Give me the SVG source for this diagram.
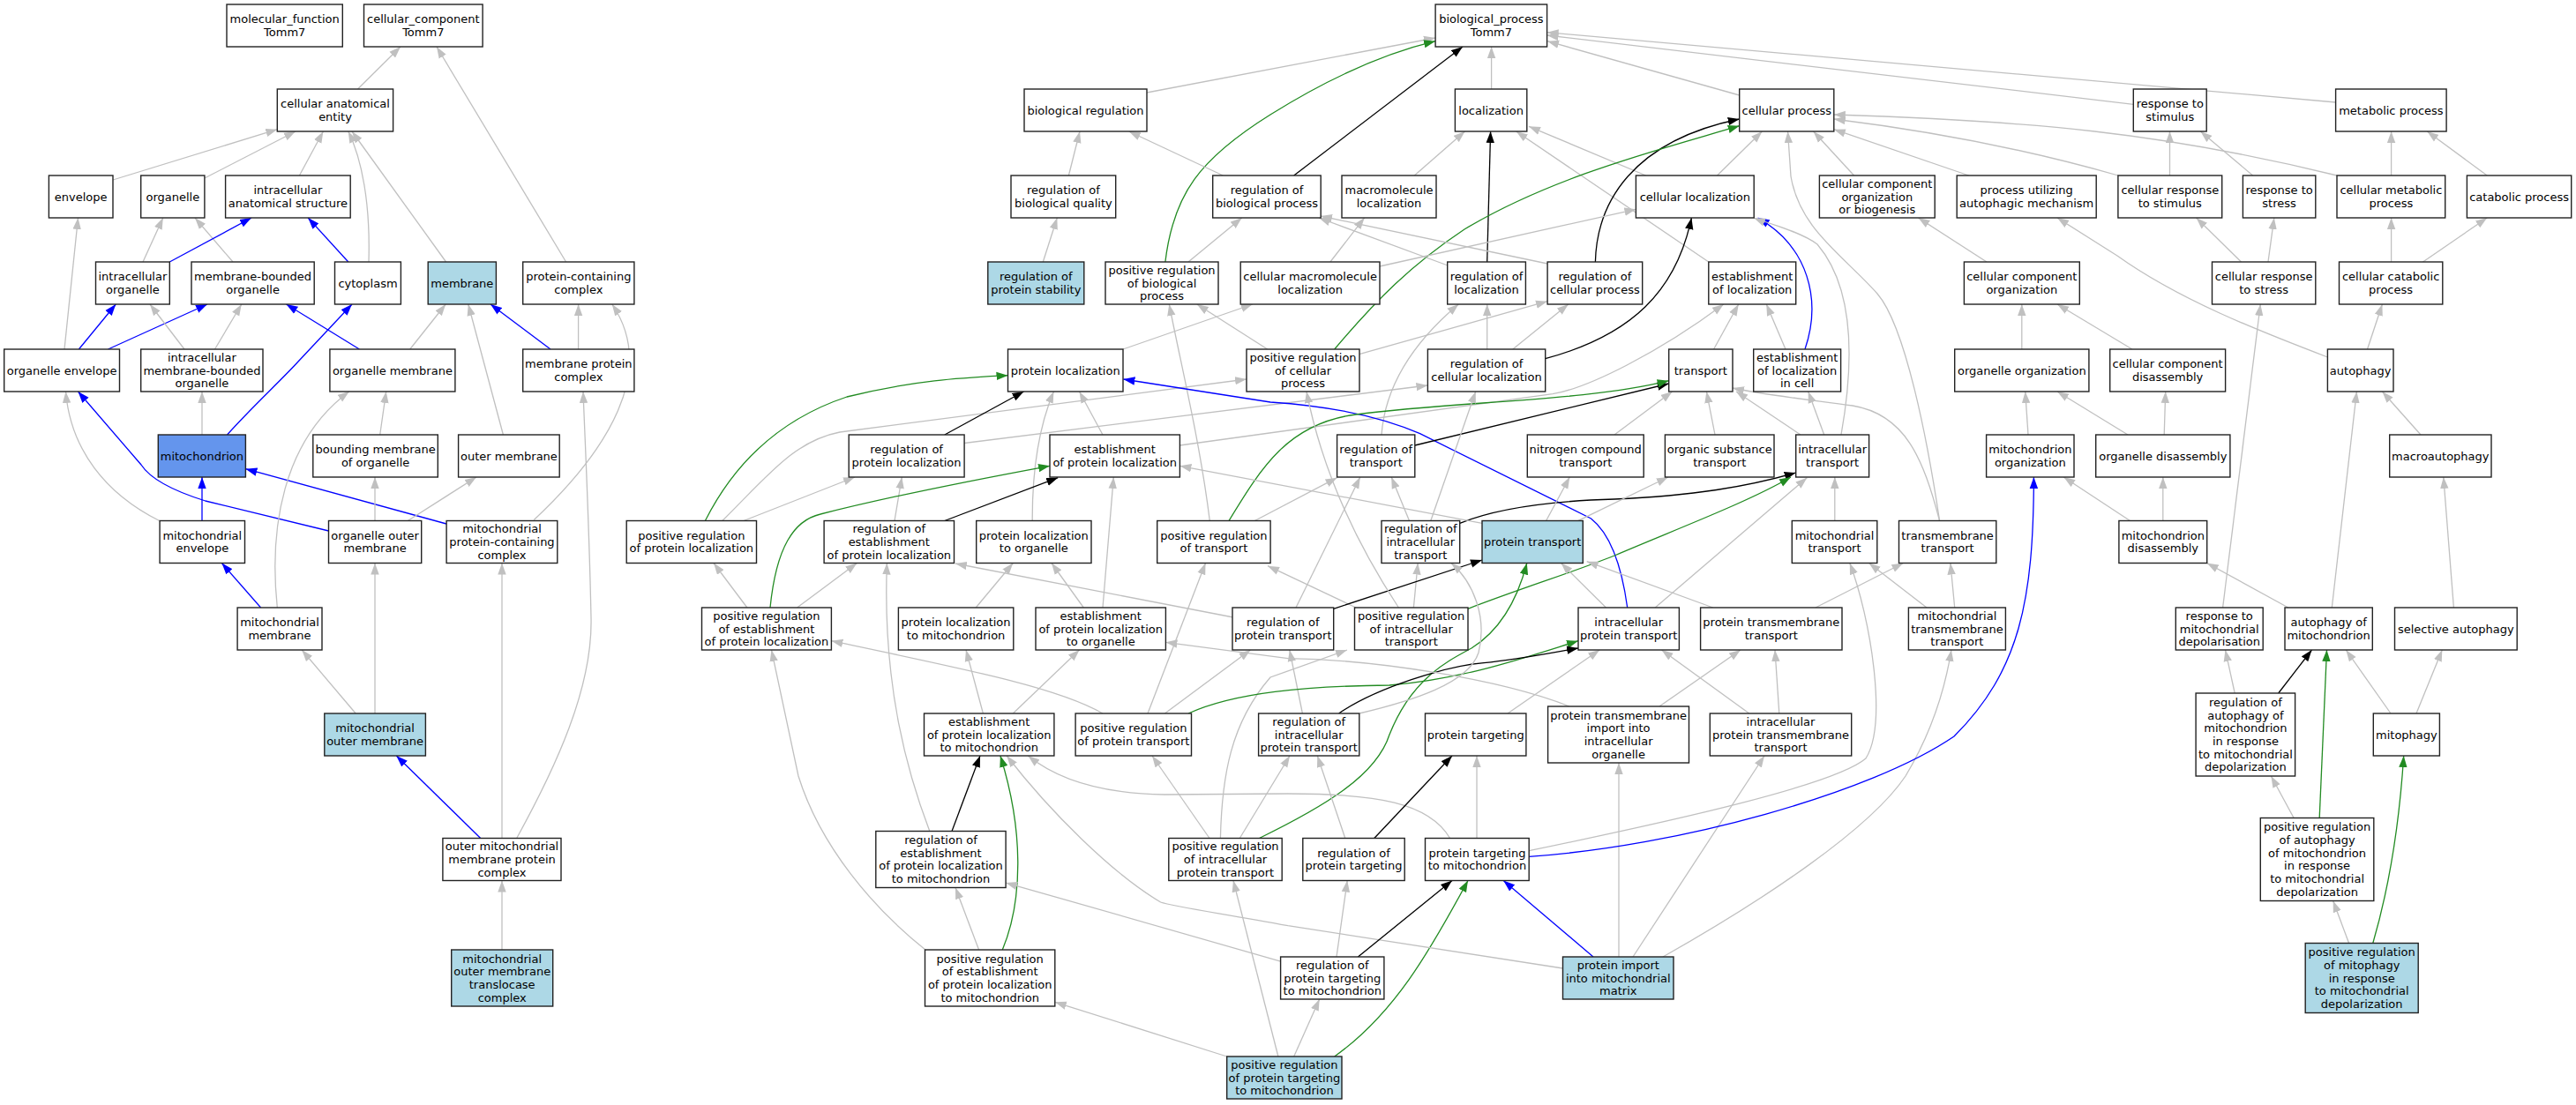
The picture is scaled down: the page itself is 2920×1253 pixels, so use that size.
<svg xmlns="http://www.w3.org/2000/svg" width="2920" height="1253" viewBox="0 0 2920 1253">
<style>
.n rect{fill:#fff;stroke:#222;stroke-width:1.4}
.lb rect{fill:#add8e6}
.cb rect{fill:#6495ed}
text{font-family:"DejaVu Sans","Liberation Sans",sans-serif;font-size:13px;text-anchor:middle;fill:#000}
#edges path{fill:none;stroke-width:1.3}
#edges .g{stroke:#c0c0c0;marker-end:url(#mg)}
#edges .b{stroke:#0000ff;marker-end:url(#mb)}
#edges .k{stroke:#000;marker-end:url(#mk)}
#edges .r{stroke:#228b22;marker-end:url(#mr)}
</style>
<defs>
<marker id="mg" markerUnits="userSpaceOnUse" markerWidth="13" markerHeight="10" refX="13" refY="5" orient="auto"><path d="M0,0.3L13,5L0,9.7z" fill="#c0c0c0"/></marker>
<marker id="mb" markerUnits="userSpaceOnUse" markerWidth="13" markerHeight="10" refX="13" refY="5" orient="auto"><path d="M0,0.3L13,5L0,9.7z" fill="#0000ff"/></marker>
<marker id="mk" markerUnits="userSpaceOnUse" markerWidth="13" markerHeight="10" refX="13" refY="5" orient="auto"><path d="M0,0.3L13,5L0,9.7z" fill="#000"/></marker>
<marker id="mr" markerUnits="userSpaceOnUse" markerWidth="13" markerHeight="10" refX="13" refY="5" orient="auto"><path d="M0,0.3L13,5L0,9.7z" fill="#228b22"/></marker>
</defs>
<rect x="0" y="0" width="2920" height="1253" fill="#fff"/>
<g id="edges">
<path class="g" d="M405.5,101L454,53"/>
<path class="g" d="M641.6,297L495,53"/>
<path class="g" d="M128,204L314.3,146.7"/>
<path class="g" d="M231.9,202L335,149"/>
<path class="g" d="M339.4,199L366.4,149"/>
<path class="g" d="M418,297C420,230 410,180 394.8,149"/>
<path class="g" d="M505.6,297L399,149"/>
<path class="g" d="M73,396L88.5,247"/>
<path class="g" d="M162,297L184.8,247"/>
<path class="g" d="M264,297L221,247"/>
<path class="b" d="M192.3,297L285,247"/>
<path class="b" d="M394.8,297L349.2,247"/>
<path class="b" d="M89.4,396L131.3,345"/>
<path class="b" d="M122.5,396L235,345"/>
<path class="g" d="M209,396L170,345"/>
<path class="g" d="M243.5,396L273.8,345"/>
<path class="b" d="M407.4,396L324.5,345"/>
<path class="b" d="M257.5,493C285,462 318,432 338,410L399,345"/>
<path class="g" d="M464.7,396L505.2,345"/>
<path class="g" d="M570.4,493L530.8,345"/>
<path class="b" d="M624,396L556,345"/>
<path class="g" d="M655.6,396L655.6,345"/>
<path class="g" d="M605.3,589.5C690,510 745,420 693.8,345"/>
<path class="g" d="M180.7,590.5C120,560 80,510 74.5,444"/>
<path class="b" d="M372.5,602L232.8,568Q175,550 160,527L88.5,444"/>
<path class="g" d="M229,493L229,444"/>
<path class="b" d="M229,590.5L229,541"/>
<path class="b" d="M506,594L278.4,531.7"/>
<path class="g" d="M314.3,689C305,600 320,500 395.8,444"/>
<path class="g" d="M430.7,493L437.7,444"/>
<path class="g" d="M425,590.5L425,541"/>
<path class="g" d="M462.3,590.5L540,541"/>
<path class="b" d="M295.6,689L251.4,638.5"/>
<path class="g" d="M403.2,809L342.2,737"/>
<path class="g" d="M425,809L425,638.5"/>
<path class="b" d="M544.7,950.5L449.3,857"/>
<path class="g" d="M569,950.5L569,638.5"/>
<path class="g" d="M585.7,950.5C630,870 672,780 670,700C668,600 664,520 661,444"/>
<path class="g" d="M569,1077L569,998.5"/>
<path class="g" d="M1300,105L1627,43"/>
<path class="r" d="M1320.9,297C1330,220 1360,180 1440,130C1520,80 1580,58 1627,46.7"/>
<path class="g" d="M1211.4,199L1224,149"/>
<path class="g" d="M1386.3,199L1279.7,149"/>
<path class="g" d="M1182.3,297L1198.3,247"/>
<path class="g" d="M1347,297L1407.7,247"/>
<path class="g" d="M1273,396L1419.8,345"/>
<path class="g" d="M1436.7,396L1356.8,345"/>
<path class="g" d="M1371.3,590.5C1360,500 1340,420 1325.3,345"/>
<path class="g" d="M1690.6,101L1690.6,53"/>
<path class="k" d="M1466.7,199L1658,53"/>
<path class="g" d="M1971.7,108L1754,46.7"/>
<path class="g" d="M2647.6,116L1753.6,36.7"/>
<path class="g" d="M2418.3,118.3L1753.6,40"/>
<path class="g" d="M2649,199C2450,150 2300,137 2078.8,130"/>
<path class="g" d="M2401,199C2300,170 2200,150 2078.8,135"/>
<path class="g" d="M2231.7,199L2078.8,146.7"/>
<path class="g" d="M2101.6,199L2055.6,149"/>
<path class="g" d="M1946.5,199L1997.4,149"/>
<path class="g" d="M2198.6,590.5C2185,500 2160,370 2128,333C2090,290 2040,260 2030,200L2026.5,149"/>
<path class="k" d="M1685.7,297L1689.6,149"/>
<path class="g" d="M1603.3,199L1660.5,149"/>
<path class="g" d="M1865.6,199L1733,143.3"/>
<path class="g" d="M1936.8,297L1718.7,149"/>
<path class="k" d="M1808.4,297C1810,230 1850,160 1971.7,135"/>
<path class="r" d="M1512.7,396C1560,340 1600,300 1660,260C1760,200 1880,170 1971.7,142.7"/>
<path class="g" d="M1641,301L1495,247"/>
<path class="g" d="M1754.1,299L1497,245"/>
<path class="g" d="M1564,302L1854.4,237.3"/>
<path class="g" d="M1507.9,297L1546.6,247"/>
<path class="g" d="M1685.7,396L1685.7,345"/>
<path class="g" d="M1714.8,396L1777.8,345"/>
<path class="k" d="M1751.7,406.7C1850,380 1900,330 1917.4,247"/>
<path class="g" d="M1540.8,401.7L1754,341.7"/>
<path class="g" d="M1566,493C1570,440 1600,390 1653.3,345"/>
<path class="g" d="M1942.6,396L1970.7,345"/>
<path class="g" d="M2024,396L2002.3,345"/>
<path class="b" d="M2046,396C2065,340 2050,280 1992.6,247"/>
<path class="g" d="M1337.4,505L1760,446.7C1800,440 1880,400 1953.8,345"/>
<path class="g" d="M818.8,590.5C870,540 900,500 952,490L1413,430"/>
<path class="g" d="M1093,502.5L1618.4,437"/>
<path class="b" d="M1844.7,689C1838,640 1825,605 1803.5,588L1609.6,491.7C1560,470 1500,460 1440,456L1273.4,430"/>
<path class="k" d="M1603.8,505L1891.7,435"/>
<path class="r" d="M1393,590.5C1430,530 1460,480 1537,470C1650,455 1800,455 1891.7,431.7"/>
<path class="g" d="M1830,493L1895.6,444"/>
<path class="g" d="M1944,493L1934.4,444"/>
<path class="g" d="M2041,493L1968,444"/>
<path class="g" d="M2067.7,493L2049.7,444"/>
<path class="g" d="M2198.6,590.5C2180,520 2160,470 2100,460C2040,452 1995,447 1964,440"/>
<path class="g" d="M2087,493C2100,420 2105,330 2060,277C2040,262 2000,252 1988,247"/>
<path class="g" d="M1597.5,590.5L1577.2,541"/>
<path class="g" d="M1621.8,590.5L1672.7,444"/>
<path class="k" d="M1654.7,593.3C1700,575 1760,568 1830,566C1920,562 1980,552 2035.7,536"/>
<path class="r" d="M1664,690.3C1730,665 1780,650 1830,630C1900,600 1980,570 2030,541"/>
<path class="g" d="M1602.4,689L1607.2,638.5"/>
<path class="g" d="M1537,689L1437,641.7"/>
<path class="g" d="M1469,689L1541.8,541"/>
<path class="k" d="M1511.7,690.3L1680,635"/>
<path class="g" d="M1476.4,809L1461.8,737"/>
<path class="g" d="M1383.4,950.5C1385,880 1395,820 1440,768L1527,737"/>
<path class="g" d="M1320.4,809L1417.4,737"/>
<path class="g" d="M1301,809L1366.5,638.5"/>
<path class="r" d="M1347,809C1400,785 1480,778 1575,777C1660,770 1730,745 1789,726.7"/>
<path class="r" d="M1427.5,950.5C1500,915 1560,880 1575,833C1600,770 1640,750 1668,735C1700,715 1720,680 1730.8,638.5"/>
<path class="k" d="M1517.6,809C1560,780 1640,755 1682,751.7C1720,748 1760,740 1789,735"/>
<path class="g" d="M1779,801C1700,770 1560,748 1460,746.7L1321.4,728.3"/>
<path class="g" d="M1752.6,590.5L1779.3,541"/>
<path class="g" d="M1786.6,591.7L1890.8,541"/>
<path class="g" d="M1680,593.3L1337.4,528.3"/>
<path class="g" d="M1820.5,689L1769.6,638.5"/>
<path class="g" d="M1941.7,689L1798.7,636.7"/>
<path class="g" d="M1876.2,689L2048.3,541.7"/>
<path class="g" d="M2079.8,590.5L2079.8,541"/>
<path class="g" d="M2184,689L2118.6,638.5"/>
<path class="g" d="M2215.7,689L2210.9,638.5"/>
<path class="g" d="M2058,689L2157.4,638.5"/>
<path class="g" d="M1982.8,809L1883.5,737"/>
<path class="g" d="M2016.8,809L2012,737"/>
<path class="g" d="M1881,801L1973,737"/>
<path class="g" d="M1709,809L1813.2,737"/>
<path class="g" d="M1540.8,809C1600,795 1665,775 1676,740C1686,700 1670,660 1645,638.5"/>
<path class="k" d="M1070.8,493L1160.5,444"/>
<path class="g" d="M1250,493L1223.5,444"/>
<path class="g" d="M1170.2,590.5C1170,540 1175,490 1194.4,444"/>
<path class="r" d="M799.4,590.5C840,510 900,470 960,450C1040,430 1100,428 1142.5,425.7"/>
<path class="g" d="M843,590.5L969,541"/>
<path class="g" d="M1014,590.5L1022.3,541"/>
<path class="k" d="M1070.8,590.5L1199.2,541.7"/>
<path class="r" d="M873,689C880,620 900,590 930,583C1000,565 1100,545 1190,528.3"/>
<path class="g" d="M846.9,689L809,638.5"/>
<path class="g" d="M903.6,689L971.4,638.5"/>
<path class="g" d="M1106.2,689L1148.3,638.5"/>
<path class="g" d="M1228.3,689L1192,638.5"/>
<path class="g" d="M1250,689L1262.3,541"/>
<path class="g" d="M1398,700L1082.9,639"/>
<path class="g" d="M1250,809C1200,780 1100,760 942.4,726.7"/>
<path class="g" d="M1114.4,809L1095,737"/>
<path class="g" d="M1148.3,809L1223.5,737"/>
<path class="g" d="M1422.3,590.5L1515.6,541.7"/>
<path class="g" d="M1585.4,689C1540,620 1500,540 1481,444"/>
<path class="k" d="M1079,942.5L1111,857"/>
<path class="r" d="M1136.3,1077C1160,1020 1160,940 1133.9,857"/>
<path class="g" d="M1109.6,1077L1083,1006.5"/>
<path class="g" d="M1049,1077C990,1030 930,960 905,880L874.5,737"/>
<path class="g" d="M1053.8,942.5C1030,880 1000,780 1005.4,638.5"/>
<path class="g" d="M1390.7,1198L1195.8,1136.3"/>
<path class="g" d="M1448.9,1198L1398,998.5"/>
<path class="g" d="M1466.7,1198L1495.7,1133"/>
<path class="r" d="M1512.7,1198C1580,1150 1620,1080 1664,998.5"/>
<path class="g" d="M1451.6,1090L1140.1,1001"/>
<path class="g" d="M1643.6,950.5C1620,910 1560,900 1460,900L1320,901C1250,900 1200,885 1165.4,857"/>
<path class="g" d="M1771.5,1098L1460,1049.7C1380,1035 1330,1028 1315.6,1023C1260,990 1190,920 1141.2,857"/>
<path class="g" d="M1371,950.5L1306,857"/>
<path class="g" d="M1405.3,950.5L1462,857"/>
<path class="k" d="M1557.8,950.5L1646,857"/>
<path class="g" d="M1674,950.5L1674,857"/>
<path class="g" d="M1524.8,950.5L1493.3,857"/>
<path class="g" d="M1515,1085L1527.2,998.5"/>
<path class="k" d="M1539.4,1085L1646,998.5"/>
<path class="b" d="M1806,1085L1704.2,998.5"/>
<path class="g" d="M1835,1085L1835,865"/>
<path class="g" d="M1851,1085L2000,857"/>
<path class="g" d="M1885,1085C2000,1020 2120,940 2160,880C2190,830 2205,780 2211.9,737"/>
<path class="b" d="M1733.2,971.3C1900,960 2120,900 2215,835C2290,760 2305,680 2305.4,541"/>
<path class="g" d="M1733.2,964.7C1900,930 2080,890 2115,860C2140,820 2120,700 2096.8,638.5"/>
<path class="g" d="M2459.5,199L2459.5,149"/>
<path class="g" d="M2553.6,199L2494.4,149"/>
<path class="g" d="M2710.6,199L2710.6,149"/>
<path class="g" d="M2819.2,199L2751.3,149"/>
<path class="g" d="M2252,297L2174.5,247"/>
<path class="g" d="M2540.5,297L2489.6,247"/>
<path class="g" d="M2571,297L2577.8,247"/>
<path class="g" d="M2710.6,297L2710.6,247"/>
<path class="g" d="M2746.5,297L2819.2,247"/>
<path class="g" d="M2291.8,396L2291.8,345"/>
<path class="g" d="M2416.9,396L2332,345"/>
<path class="g" d="M2638.4,405C2560,375 2470,340 2400,290L2332,247"/>
<path class="g" d="M2683.5,396L2700.4,345"/>
<path class="g" d="M2519.6,689L2562.3,345"/>
<path class="g" d="M2299,493L2295.7,444"/>
<path class="g" d="M2412,493L2332,444"/>
<path class="g" d="M2453.2,493L2454.7,444"/>
<path class="g" d="M2414.5,590.5L2339.3,541"/>
<path class="g" d="M2451.8,590.5L2451.8,541"/>
<path class="g" d="M2744,493L2700.4,444"/>
<path class="g" d="M2643.3,689L2671.4,444"/>
<path class="g" d="M2593.8,689L2501.7,638.5"/>
<path class="g" d="M2781.4,689L2769.8,541"/>
<path class="g" d="M2533.2,786L2522.5,737"/>
<path class="k" d="M2582.7,786L2620.5,737"/>
<path class="r" d="M2629.2,927.5L2637.5,737"/>
<path class="g" d="M2710,809L2659.3,737"/>
<path class="g" d="M2739,809L2768.3,737"/>
<path class="g" d="M2600.1,927.5L2574.4,880"/>
<path class="g" d="M2662.6,1069.5L2644.7,1021.5"/>
<path class="r" d="M2689.8,1069.5C2710,1000 2720,930 2724.7,857"/>
</g>
<g id="n_mf" class="n"><rect x="257" y="5" width="131.3" height="48"/><text x="322.7" y="26.25">molecular_function<tspan x="322.7" dy="14.7">Tomm7</tspan></text></g>
<g id="n_cc" class="n"><rect x="412.5" y="5" width="134.6" height="48"/><text x="479.8" y="26.25">cellular_component<tspan x="479.8" dy="14.7">Tomm7</tspan></text></g>
<g id="n_cae" class="n"><rect x="314.3" y="101" width="131.3" height="48"/><text x="380" y="122.25">cellular anatomical<tspan x="380" dy="14.7">entity</tspan></text></g>
<g id="n_env" class="n"><rect x="55.4" y="199" width="72.6" height="48"/><text x="91.7" y="227.6">envelope</text></g>
<g id="n_org" class="n"><rect x="159.7" y="199" width="72.2" height="48"/><text x="195.8" y="227.6">organelle</text></g>
<g id="n_ias" class="n"><rect x="255.6" y="199" width="141.6" height="48"/><text x="326.4" y="220.25">intracellular<tspan x="326.4" dy="14.7">anatomical structure</tspan></text></g>
<g id="n_io" class="n"><rect x="108.5" y="297" width="83.8" height="48"/><text x="150.4" y="318.25">intracellular<tspan x="150.4" dy="14.7">organelle</tspan></text></g>
<g id="n_mbo" class="n"><rect x="217" y="297" width="139.2" height="48"/><text x="286.6" y="318.25">membrane-bounded<tspan x="286.6" dy="14.7">organelle</tspan></text></g>
<g id="n_cyt" class="n"><rect x="379.5" y="297" width="74.9" height="48"/><text x="417" y="325.6">cytoplasm</text></g>
<g id="n_mem" class="n lb"><rect x="485.2" y="297" width="77.2" height="48"/><text x="523.8" y="325.6">membrane</text></g>
<g id="n_pcc" class="n"><rect x="592.7" y="297" width="126.2" height="48"/><text x="655.8" y="318.25">protein-containing<tspan x="655.8" dy="14.7">complex</tspan></text></g>
<g id="n_oe" class="n"><rect x="4.7" y="396" width="130.8" height="48"/><text x="70.1" y="424.6">organelle envelope</text></g>
<g id="n_imbo" class="n"><rect x="159.7" y="396" width="138.3" height="48"/><text x="228.9" y="409.9">intracellular<tspan x="228.9" dy="14.7">membrane-bounded</tspan><tspan x="228.9" dy="14.7">organelle</tspan></text></g>
<g id="n_om" class="n"><rect x="373.9" y="396" width="142" height="48"/><text x="444.9" y="424.6">organelle membrane</text></g>
<g id="n_mpc" class="n"><rect x="592.7" y="396" width="126.2" height="48"/><text x="655.8" y="417.25">membrane protein<tspan x="655.8" dy="14.7">complex</tspan></text></g>
<g id="n_mito" class="n cb"><rect x="179.3" y="493" width="99.1" height="48"/><text x="228.9" y="521.6">mitochondrion</text></g>
<g id="n_bmo" class="n"><rect x="354.8" y="493" width="141.5" height="48"/><text x="425.6" y="514.25">bounding membrane<tspan x="425.6" dy="14.7">of organelle</tspan></text></g>
<g id="n_outm" class="n"><rect x="519.6" y="493" width="114.6" height="48"/><text x="576.9" y="521.6">outer membrane</text></g>
<g id="n_menv" class="n"><rect x="181.1" y="590.5" width="96.4" height="48"/><text x="229.3" y="611.75">mitochondrial<tspan x="229.3" dy="14.7">envelope</tspan></text></g>
<g id="n_oom" class="n"><rect x="372.5" y="590.5" width="105.2" height="48"/><text x="425.1" y="611.75">organelle outer<tspan x="425.1" dy="14.7">membrane</tspan></text></g>
<g id="n_mpcc" class="n"><rect x="506.1" y="590.5" width="125.7" height="48"/><text x="569" y="604.4">mitochondrial<tspan x="569" dy="14.7">protein-containing</tspan><tspan x="569" dy="14.7">complex</tspan></text></g>
<g id="n_mmem" class="n"><rect x="269.1" y="689" width="95.9" height="48"/><text x="317" y="710.25">mitochondrial<tspan x="317" dy="14.7">membrane</tspan></text></g>
<g id="n_mom" class="n lb"><rect x="367.8" y="809" width="114.6" height="48"/><text x="425.1" y="830.25">mitochondrial<tspan x="425.1" dy="14.7">outer membrane</tspan></text></g>
<g id="n_ommpc" class="n"><rect x="501.9" y="950.5" width="134.1" height="48"/><text x="569" y="964.4">outer mitochondrial<tspan x="569" dy="14.7">membrane protein</tspan><tspan x="569" dy="14.7">complex</tspan></text></g>
<g id="n_momtc" class="n lb"><rect x="511.7" y="1077" width="115" height="64"/><text x="569.2" y="1091.55">mitochondrial<tspan x="569.2" dy="14.7">outer membrane</tspan><tspan x="569.2" dy="14.7">translocase</tspan><tspan x="569.2" dy="14.7">complex</tspan></text></g>
<g id="n_bp" class="n"><rect x="1627.1" y="5" width="126.5" height="48"/><text x="1690.4" y="26.25">biological_process<tspan x="1690.4" dy="14.7">Tomm7</tspan></text></g>
<g id="n_breg" class="n"><rect x="1161" y="101" width="139" height="48"/><text x="1230.5" y="129.6">biological regulation</text></g>
<g id="n_loc" class="n"><rect x="1649.4" y="101" width="81.4" height="48"/><text x="1690.1" y="129.6">localization</text></g>
<g id="n_cp" class="n"><rect x="1971.7" y="101" width="107.1" height="48"/><text x="2025.3" y="129.6">cellular process</text></g>
<g id="n_rts" class="n"><rect x="2418.3" y="101" width="82.9" height="48"/><text x="2459.8" y="122.25">response to<tspan x="2459.8" dy="14.7">stimulus</tspan></text></g>
<g id="n_mp" class="n"><rect x="2647.6" y="101" width="125.5" height="48"/><text x="2710.4" y="129.6">metabolic process</text></g>
<g id="n_rbq" class="n"><rect x="1146" y="199" width="118.7" height="48"/><text x="1205.4" y="220.25">regulation of<tspan x="1205.4" dy="14.7">biological quality</tspan></text></g>
<g id="n_rbp" class="n"><rect x="1374.7" y="199" width="122.5" height="48"/><text x="1436" y="220.25">regulation of<tspan x="1436" dy="14.7">biological process</tspan></text></g>
<g id="n_ml" class="n"><rect x="1521" y="199" width="107" height="48"/><text x="1574.5" y="220.25">macromolecule<tspan x="1574.5" dy="14.7">localization</tspan></text></g>
<g id="n_cl" class="n"><rect x="1854.4" y="199" width="133.8" height="48"/><text x="1921.3" y="227.6">cellular localization</text></g>
<g id="n_ccob" class="n"><rect x="2062.4" y="199" width="130.8" height="48"/><text x="2127.8" y="212.9">cellular component<tspan x="2127.8" dy="14.7">organization</tspan><tspan x="2127.8" dy="14.7">or biogenesis</tspan></text></g>
<g id="n_puam" class="n"><rect x="2218.2" y="199" width="158" height="48"/><text x="2297.2" y="220.25">process utilizing<tspan x="2297.2" dy="14.7">autophagic mechanism</tspan></text></g>
<g id="n_crs" class="n"><rect x="2400.9" y="199" width="117.8" height="48"/><text x="2459.8" y="220.25">cellular response<tspan x="2459.8" dy="14.7">to stimulus</tspan></text></g>
<g id="n_rtst" class="n"><rect x="2542.4" y="199" width="82.4" height="48"/><text x="2583.6" y="220.25">response to<tspan x="2583.6" dy="14.7">stress</tspan></text></g>
<g id="n_cmp" class="n"><rect x="2649" y="199" width="122.7" height="48"/><text x="2710.4" y="220.25">cellular metabolic<tspan x="2710.4" dy="14.7">process</tspan></text></g>
<g id="n_catp" class="n"><rect x="2796.4" y="199" width="118.3" height="48"/><text x="2855.6" y="227.6">catabolic process</text></g>
<g id="n_rps" class="n lb"><rect x="1119.8" y="297" width="109" height="48"/><text x="1174.3" y="318.25">regulation of<tspan x="1174.3" dy="14.7">protein stability</tspan></text></g>
<g id="n_prbp" class="n"><rect x="1253" y="297" width="128" height="48"/><text x="1317" y="310.9">positive regulation<tspan x="1317" dy="14.7">of biological</tspan><tspan x="1317" dy="14.7">process</tspan></text></g>
<g id="n_cml" class="n"><rect x="1406.2" y="297" width="157.8" height="48"/><text x="1485.1" y="318.25">cellular macromolecule<tspan x="1485.1" dy="14.7">localization</tspan></text></g>
<g id="n_rl" class="n"><rect x="1640.7" y="297" width="88.7" height="48"/><text x="1685" y="318.25">regulation of<tspan x="1685" dy="14.7">localization</tspan></text></g>
<g id="n_rcp" class="n"><rect x="1754.1" y="297" width="107.6" height="48"/><text x="1807.9" y="318.25">regulation of<tspan x="1807.9" dy="14.7">cellular process</tspan></text></g>
<g id="n_el" class="n"><rect x="1936.8" y="297" width="98.9" height="48"/><text x="1986.2" y="318.25">establishment<tspan x="1986.2" dy="14.7">of localization</tspan></text></g>
<g id="n_cco" class="n"><rect x="2226.4" y="297" width="130.9" height="48"/><text x="2291.8" y="318.25">cellular component<tspan x="2291.8" dy="14.7">organization</tspan></text></g>
<g id="n_crst" class="n"><rect x="2507.5" y="297" width="117.3" height="48"/><text x="2566.1" y="318.25">cellular response<tspan x="2566.1" dy="14.7">to stress</tspan></text></g>
<g id="n_ccp" class="n"><rect x="2651.5" y="297" width="117.3" height="48"/><text x="2710.1" y="318.25">cellular catabolic<tspan x="2710.1" dy="14.7">process</tspan></text></g>
<g id="n_pl" class="n"><rect x="1142.5" y="396" width="130.5" height="48"/><text x="1207.7" y="424.6">protein localization</text></g>
<g id="n_prcp" class="n"><rect x="1413" y="396" width="128" height="48"/><text x="1477" y="409.9">positive regulation<tspan x="1477" dy="14.7">of cellular</tspan><tspan x="1477" dy="14.7">process</tspan></text></g>
<g id="n_rcl" class="n"><rect x="1618.4" y="396" width="133.3" height="48"/><text x="1685" y="417.25">regulation of<tspan x="1685" dy="14.7">cellular localization</tspan></text></g>
<g id="n_tr" class="n"><rect x="1891.7" y="396" width="72.3" height="48"/><text x="1927.8" y="424.6">transport</text></g>
<g id="n_elc" class="n"><rect x="1987.7" y="396" width="98.9" height="48"/><text x="2037.1" y="409.9">establishment<tspan x="2037.1" dy="14.7">of localization</tspan><tspan x="2037.1" dy="14.7">in cell</tspan></text></g>
<g id="n_oo" class="n"><rect x="2215.7" y="396" width="152.2" height="48"/><text x="2291.8" y="424.6">organelle organization</text></g>
<g id="n_ccd" class="n"><rect x="2391.7" y="396" width="130.9" height="48"/><text x="2457.1" y="417.25">cellular component<tspan x="2457.1" dy="14.7">disassembly</tspan></text></g>
<g id="n_aut" class="n"><rect x="2638.4" y="396" width="74.6" height="48"/><text x="2675.7" y="424.6">autophagy</text></g>
<g id="n_rpl" class="n"><rect x="962.2" y="493" width="130.9" height="48"/><text x="1027.6" y="514.25">regulation of<tspan x="1027.6" dy="14.7">protein localization</tspan></text></g>
<g id="n_epl" class="n"><rect x="1190" y="493" width="147.4" height="48"/><text x="1263.7" y="514.25">establishment<tspan x="1263.7" dy="14.7">of protein localization</tspan></text></g>
<g id="n_rt" class="n"><rect x="1515.6" y="493" width="88.2" height="48"/><text x="1559.7" y="514.25">regulation of<tspan x="1559.7" dy="14.7">transport</tspan></text></g>
<g id="n_nct" class="n"><rect x="1731.3" y="493" width="131.9" height="48"/><text x="1797.2" y="514.25">nitrogen compound<tspan x="1797.2" dy="14.7">transport</tspan></text></g>
<g id="n_ost" class="n"><rect x="1887.4" y="493" width="123.6" height="48"/><text x="1949.2" y="514.25">organic substance<tspan x="1949.2" dy="14.7">transport</tspan></text></g>
<g id="n_it" class="n"><rect x="2035.7" y="493" width="82.9" height="48"/><text x="2077.1" y="514.25">intracellular<tspan x="2077.1" dy="14.7">transport</tspan></text></g>
<g id="n_mo" class="n"><rect x="2251.6" y="493" width="99.4" height="48"/><text x="2301.3" y="514.25">mitochondrion<tspan x="2301.3" dy="14.7">organization</tspan></text></g>
<g id="n_od" class="n"><rect x="2375.7" y="493" width="152.2" height="48"/><text x="2451.8" y="521.6">organelle disassembly</text></g>
<g id="n_maut" class="n"><rect x="2708.7" y="493" width="115.3" height="48"/><text x="2766.3" y="521.6">macroautophagy</text></g>
<g id="n_prpl" class="n"><rect x="710.2" y="590.5" width="147.3" height="48"/><text x="783.8" y="611.75">positive regulation<tspan x="783.8" dy="14.7">of protein localization</tspan></text></g>
<g id="n_repl" class="n"><rect x="934.1" y="590.5" width="147.4" height="48"/><text x="1007.8" y="604.4">regulation of<tspan x="1007.8" dy="14.7">establishment</tspan><tspan x="1007.8" dy="14.7">of protein localization</tspan></text></g>
<g id="n_plo" class="n"><rect x="1106.7" y="590.5" width="130.3" height="48"/><text x="1171.8" y="611.75">protein localization<tspan x="1171.8" dy="14.7">to organelle</tspan></text></g>
<g id="n_prt" class="n"><rect x="1311.7" y="590.5" width="128.4" height="48"/><text x="1375.9" y="611.75">positive regulation<tspan x="1375.9" dy="14.7">of transport</tspan></text></g>
<g id="n_rit" class="n"><rect x="1566" y="590.5" width="88.7" height="48"/><text x="1610.3" y="604.4">regulation of<tspan x="1610.3" dy="14.7">intracellular</tspan><tspan x="1610.3" dy="14.7">transport</tspan></text></g>
<g id="n_pt" class="n lb"><rect x="1680" y="590.5" width="114.3" height="48"/><text x="1737.1" y="619.1">protein transport</text></g>
<g id="n_mt" class="n"><rect x="2031.3" y="590.5" width="96.5" height="48"/><text x="2079.5" y="611.75">mitochondrial<tspan x="2079.5" dy="14.7">transport</tspan></text></g>
<g id="n_tt" class="n"><rect x="2152.5" y="590.5" width="110.3" height="48"/><text x="2207.6" y="611.75">transmembrane<tspan x="2207.6" dy="14.7">transport</tspan></text></g>
<g id="n_md" class="n"><rect x="2401.9" y="590.5" width="99.8" height="48"/><text x="2451.8" y="611.75">mitochondrion<tspan x="2451.8" dy="14.7">disassembly</tspan></text></g>
<g id="n_prepl" class="n"><rect x="795.5" y="689" width="146.9" height="48"/><text x="868.9" y="702.9">positive regulation<tspan x="868.9" dy="14.7">of establishment</tspan><tspan x="868.9" dy="14.7">of protein localization</tspan></text></g>
<g id="n_plm" class="n"><rect x="1018.4" y="689" width="130.4" height="48"/><text x="1083.6" y="710.25">protein localization<tspan x="1083.6" dy="14.7">to mitochondrion</tspan></text></g>
<g id="n_eplo" class="n"><rect x="1174" y="689" width="147.4" height="48"/><text x="1247.7" y="702.9">establishment<tspan x="1247.7" dy="14.7">of protein localization</tspan><tspan x="1247.7" dy="14.7">to organelle</tspan></text></g>
<g id="n_rpt" class="n"><rect x="1397" y="689" width="114.7" height="48"/><text x="1454.3" y="710.25">regulation of<tspan x="1454.3" dy="14.7">protein transport</tspan></text></g>
<g id="n_prit" class="n"><rect x="1535.5" y="689" width="128.5" height="48"/><text x="1599.7" y="702.9">positive regulation<tspan x="1599.7" dy="14.7">of intracellular</tspan><tspan x="1599.7" dy="14.7">transport</tspan></text></g>
<g id="n_ipt" class="n"><rect x="1789" y="689" width="114.4" height="48"/><text x="1846.2" y="710.25">intracellular<tspan x="1846.2" dy="14.7">protein transport</tspan></text></g>
<g id="n_ptt" class="n"><rect x="1927.6" y="689" width="160.4" height="48"/><text x="2007.8" y="710.25">protein transmembrane<tspan x="2007.8" dy="14.7">transport</tspan></text></g>
<g id="n_mtt" class="n"><rect x="2163.4" y="689" width="110" height="48"/><text x="2218.4" y="702.9">mitochondrial<tspan x="2218.4" dy="14.7">transmembrane</tspan><tspan x="2218.4" dy="14.7">transport</tspan></text></g>
<g id="n_rmd" class="n"><rect x="2466.3" y="689" width="98.9" height="48"/><text x="2515.7" y="702.9">response to<tspan x="2515.7" dy="14.7">mitochondrial</tspan><tspan x="2515.7" dy="14.7">depolarisation</tspan></text></g>
<g id="n_aom" class="n"><rect x="2590" y="689" width="99.3" height="48"/><text x="2639.6" y="710.25">autophagy of<tspan x="2639.6" dy="14.7">mitochondrion</tspan></text></g>
<g id="n_sa" class="n"><rect x="2714.5" y="689" width="138.7" height="48"/><text x="2783.8" y="717.6">selective autophagy</text></g>
<g id="n_eplm" class="n"><rect x="1047.5" y="809" width="147.4" height="48"/><text x="1121.2" y="822.9">establishment<tspan x="1121.2" dy="14.7">of protein localization</tspan><tspan x="1121.2" dy="14.7">to mitochondrion</tspan></text></g>
<g id="n_prpt" class="n"><rect x="1219.1" y="809" width="131.4" height="48"/><text x="1284.8" y="830.25">positive regulation<tspan x="1284.8" dy="14.7">of protein transport</tspan></text></g>
<g id="n_ript" class="n"><rect x="1426.6" y="809" width="114.2" height="48"/><text x="1483.7" y="822.9">regulation of<tspan x="1483.7" dy="14.7">intracellular</tspan><tspan x="1483.7" dy="14.7">protein transport</tspan></text></g>
<g id="n_ptg" class="n"><rect x="1615.5" y="809" width="114.4" height="48"/><text x="1672.7" y="837.6">protein targeting</text></g>
<g id="n_ptiio" class="n"><rect x="1754.6" y="801" width="159.9" height="64"/><text x="1834.6" y="815.55">protein transmembrane<tspan x="1834.6" dy="14.7">import into</tspan><tspan x="1834.6" dy="14.7">intracellular</tspan><tspan x="1834.6" dy="14.7">organelle</tspan></text></g>
<g id="n_iptt" class="n"><rect x="1938.3" y="809" width="160.4" height="48"/><text x="2018.5" y="822.9">intracellular<tspan x="2018.5" dy="14.7">protein transmembrane</tspan><tspan x="2018.5" dy="14.7">transport</tspan></text></g>
<g id="n_ram" class="n"><rect x="2489.1" y="786" width="112.5" height="94"/><text x="2545.4" y="800.85">regulation of<tspan x="2545.4" dy="14.7">autophagy of</tspan><tspan x="2545.4" dy="14.7">mitochondrion</tspan><tspan x="2545.4" dy="14.7">in response</tspan><tspan x="2545.4" dy="14.7">to mitochondrial</tspan><tspan x="2545.4" dy="14.7">depolarization</tspan></text></g>
<g id="n_mitoph" class="n"><rect x="2690.3" y="809" width="75.1" height="48"/><text x="2727.9" y="837.6">mitophagy</text></g>
<g id="n_relm" class="n"><rect x="992.8" y="942.5" width="147.3" height="64"/><text x="1066.5" y="957.05">regulation of<tspan x="1066.5" dy="14.7">establishment</tspan><tspan x="1066.5" dy="14.7">of protein localization</tspan><tspan x="1066.5" dy="14.7">to mitochondrion</tspan></text></g>
<g id="n_pript" class="n"><rect x="1324.8" y="950.5" width="128.4" height="48"/><text x="1389" y="964.4">positive regulation<tspan x="1389" dy="14.7">of intracellular</tspan><tspan x="1389" dy="14.7">protein transport</tspan></text></g>
<g id="n_rptg" class="n"><rect x="1476.8" y="950.5" width="115.4" height="48"/><text x="1534.5" y="971.75">regulation of<tspan x="1534.5" dy="14.7">protein targeting</tspan></text></g>
<g id="n_ptm" class="n"><rect x="1615.5" y="950.5" width="117.7" height="48"/><text x="1674.4" y="971.75">protein targeting<tspan x="1674.4" dy="14.7">to mitochondrion</tspan></text></g>
<g id="n_pram" class="n"><rect x="2562.3" y="927.5" width="128.5" height="94"/><text x="2626.6" y="942.35">positive regulation<tspan x="2626.6" dy="14.7">of autophagy</tspan><tspan x="2626.6" dy="14.7">of mitochondrion</tspan><tspan x="2626.6" dy="14.7">in response</tspan><tspan x="2626.6" dy="14.7">to mitochondrial</tspan><tspan x="2626.6" dy="14.7">depolarization</tspan></text></g>
<g id="n_prelm" class="n"><rect x="1048.5" y="1077" width="147.3" height="64"/><text x="1122.2" y="1091.55">positive regulation<tspan x="1122.2" dy="14.7">of establishment</tspan><tspan x="1122.2" dy="14.7">of protein localization</tspan><tspan x="1122.2" dy="14.7">to mitochondrion</tspan></text></g>
<g id="n_rptm" class="n"><rect x="1451.6" y="1085" width="117.3" height="48"/><text x="1510.3" y="1098.9">regulation of<tspan x="1510.3" dy="14.7">protein targeting</tspan><tspan x="1510.3" dy="14.7">to mitochondrion</tspan></text></g>
<g id="n_pimm" class="n lb"><rect x="1771.5" y="1085" width="125.5" height="48"/><text x="1834.3" y="1098.9">protein import<tspan x="1834.3" dy="14.7">into mitochondrial</tspan><tspan x="1834.3" dy="14.7">matrix</tspan></text></g>
<g id="n_prmd" class="n lb"><rect x="2613.2" y="1069.5" width="128" height="79"/><text x="2677.2" y="1084.2">positive regulation<tspan x="2677.2" dy="14.7">of mitophagy</tspan><tspan x="2677.2" dy="14.7">in response</tspan><tspan x="2677.2" dy="14.7">to mitochondrial</tspan><tspan x="2677.2" dy="14.7">depolarization</tspan></text></g>
<g id="n_prptm" class="n lb"><rect x="1390.7" y="1198" width="130.3" height="48"/><text x="1455.9" y="1211.9">positive regulation<tspan x="1455.9" dy="14.7">of protein targeting</tspan><tspan x="1455.9" dy="14.7">to mitochondrion</tspan></text></g>
</svg>
